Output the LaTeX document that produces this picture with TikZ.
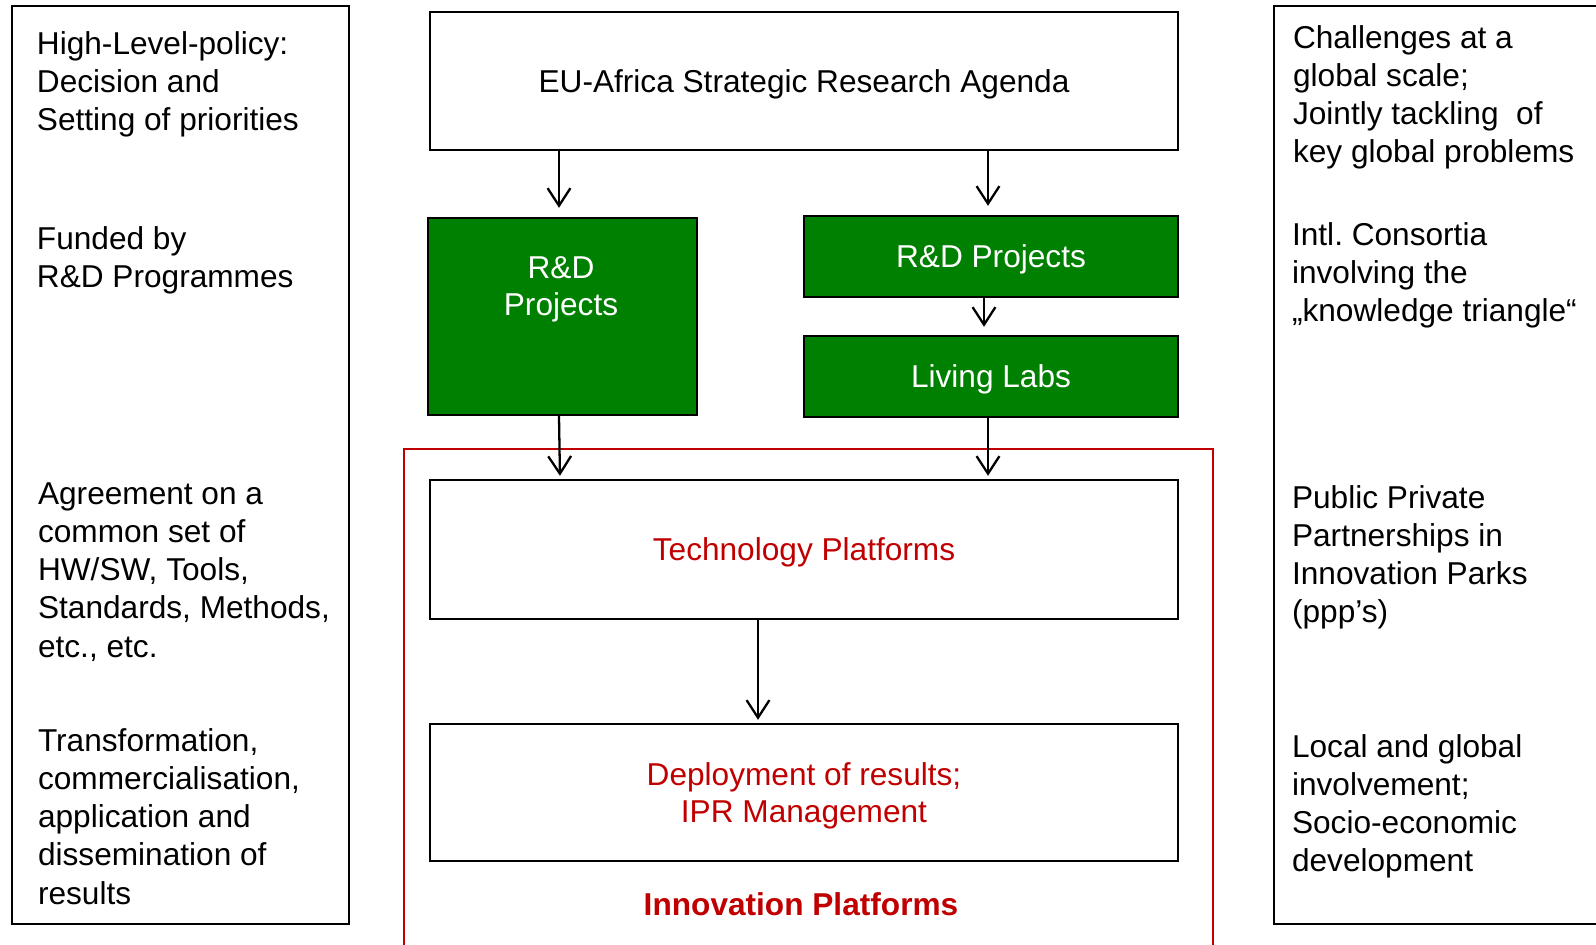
\documentclass[tikz,border=0pt]{standalone}
\usepackage{fontspec}
\setmainfont{Liberation Sans}
\usetikzlibrary{arrows.meta}
\definecolor{labgreen}{RGB}{0,128,0}
\definecolor{iprred}{RGB}{192,0,0}

\begin{document}
\begin{tikzpicture}[x=0.02cm,y=-0.02cm,font=\fontsize{18}{21.5}\selectfont,
    box/.style={draw,line width=1.4pt,minimum width=14.96cm,inner sep=0pt,text depth=0pt},
    greenbox/.style={draw,line width=1.4pt,fill=labgreen,text=white,inner sep=0pt,text depth=0pt},
    side/.style={anchor=base west,align=left,inner sep=0pt,font=\fontsize{18}{21.8}\selectfont},
    arr/.style={-{Straight Barb[length=10pt,width=13pt]},line width=1.3pt}]
  \useasboundingbox (0,0) rectangle (1596,944);
  % side columns
  \draw[line width=1.4pt] (12,6) rectangle (349,924);
  \draw[line width=1.4pt] (1610,6) -| (1274,924) -- (1610,924);
  \node[side] (policy) at (36.6,130.6) {High-Level-policy:\\Decision and\\Setting of priorities};
  \node[side] (funded) at (36.6,287.3) {Funded by\\R\&D Programmes};
  \node[side] (agree) at (37.7,657.2) {Agreement on a\\common set of\\HW/SW, Tools,\\Standards, Methods,\\etc., etc.};
  \node[side] (transf) at (37.7,904.2) {Transformation,\\commercialisation,\\application and\\dissemination of\\results};
  \node[side] (challenge) at (1292.7,162.9) {Challenges at a\\global scale;\\Jointly tackling~ of\\key global problems};
  \node[side] (consort) at (1291.7,321.6) {Intl.\ Consortia\\involving the\\„knowledge triangle“};
  \node[side] (ppp) at (1291.7,622.9) {Public Private\\Partnerships in\\Innovation Parks\\(ppp’s)};
  \node[side] (local) at (1291.7,871.9) {Local and global\\involvement;\\Socio-economic\\development};
  % middle column
  \node[box,minimum height=2.76cm] (agenda) at (804,81) {EU-Africa Strategic Research Agenda};
  \node[greenbox,minimum width=5.38cm,minimum height=3.94cm] (rdleft) at (562.5,316.5) {};
  \node[text=white,align=center,text depth=0pt] (rdlefttxt) at (561,286) {R\&D\\Projects};
  \node[greenbox,minimum width=7.48cm,minimum height=1.62cm] (rdright) at (991,256.5) {R\&D Projects};
  \node[greenbox,minimum width=7.48cm,minimum height=1.62cm] (labs) at (991,376.5) {Living Labs};
  \draw[iprred,line width=1.4pt] (404,950) |- (1213,449) -- (1213,950);
  \node[box,minimum height=2.78cm,text=iprred] (techplat) at (804,549.5) {Technology Platforms};
  \node[box,minimum height=2.74cm,text=iprred,align=center] (deploy) at (804,792.5) {Deployment of results;\\IPR Management};
  \node[text=iprred,font=\fontsize{18}{21.5}\selectfont\bfseries] (innov) at (801,904) {Innovation Platforms};
  % arrows
  \draw[arr,shorten >=0.18cm] ([xshift=-0.07cm]agenda.south -| rdleft.north) -- ([xshift=-0.07cm]rdleft.north);
  \draw[arr,shorten >=0.18cm] ([xshift=-0.06cm]agenda.south -| rdright.north) -- ([xshift=-0.06cm]rdright.north);
  \draw[arr,shorten >=0.16cm] ([xshift=-0.14cm]rdright.south) -- ([xshift=-0.14cm]labs.north);
  \draw[arr,shorten >=0.06cm] ([xshift=-0.07cm]rdleft.south) -- ([xshift=-0.05cm]rdleft.south |- techplat.north);
  \draw[arr,shorten >=0.06cm] ([xshift=-0.06cm]labs.south) -- ([xshift=-0.06cm]labs.south |- techplat.north);
  \draw[arr,shorten >=0.06cm] ([xshift=-0.92cm]techplat.south) -- ([xshift=-0.92cm]deploy.north);
\end{tikzpicture}
\end{document}
